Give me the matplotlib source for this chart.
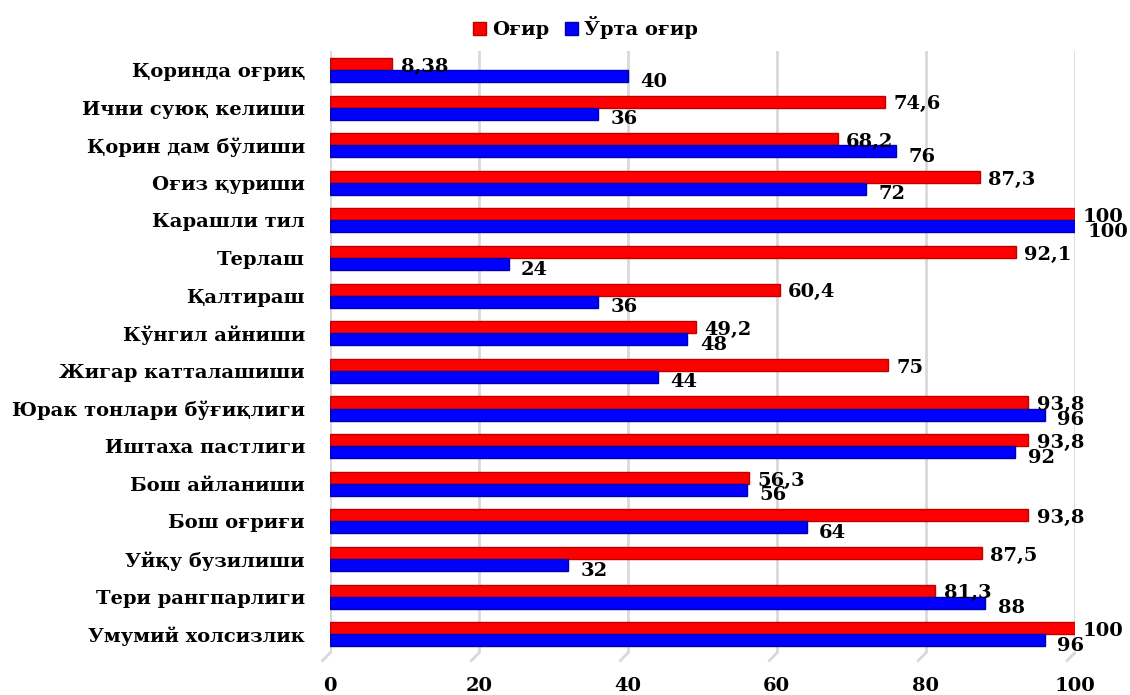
import matplotlib
matplotlib.use("Agg")
import matplotlib.pyplot as plt
import numpy as np

categories = ["Қоринда оғриқ", "Ични суюқ келиши", "Қорин дам бўлиши", "Оғиз қуриши",
              "Карашли тил", "Терлаш", "Қалтираш", "Кўнгил айниши", "Жигар катталашиши",
              "Юрак тонлари бўғиқлиги", "Иштаха пастлиги", "Бош айланиши", "Бош оғриғи",
              "Уйқу бузилиши", "Тери рангпарлиги", "Умумий холсизлик"]
ogir = [8.38, 74.6, 68.2, 87.3, 100, 92.1, 60.4, 49.2, 75, 93.8, 93.8, 56.3, 93.8, 87.5, 81.3, 100]
orta = [40, 36, 76, 72, 100, 24, 36, 48, 44, 96, 92, 56, 64, 32, 88, 96]
ogir_lbl = ["8,38", "74,6", "68,2", "87,3", "100", "92,1", "60,4", "49,2", "75", "93,8",
            "93,8", "56,3", "93,8", "87,5", "81,3", "100"]
orta_lbl = [str(v) for v in orta]
ticks = [0, 20, 40, 60, 80, 100]

plt.rcParams['font.family'] = ['DejaVu Serif']
plt.rcParams['font.weight'] = 'bold'

fig = plt.figure(figsize=(11.3, 6.95), dpi=100)
ax = fig.add_axes([0.292, 0.0604, 0.659, 0.866])

y = np.arange(len(categories))
h = 0.32
ax.barh(y - h / 2, ogir, height=h, color="#ff0000", edgecolor="#c00000", linewidth=1, label="Оғир", zorder=3)
ax.barh(y + h / 2, orta, height=h, color="#0000ff", edgecolor="#0000b0", linewidth=1, label="Ўрта оғир", zorder=3)

for i in range(len(categories)):
    ax.annotate(ogir_lbl[i], (ogir[i], y[i] - h / 2), xytext=(6, -2), textcoords="offset points",
                va="center", ha="left", fontsize=14, fontweight="bold")
    ax.annotate(orta_lbl[i], (orta[i], y[i] + h / 2), xytext=(9, -4), textcoords="offset points",
                va="center", ha="left", fontsize=14, fontweight="bold")

n = len(categories)
ax.set_ylim(n - 0.5, -0.5)
ax.set_xlim(0, 100)
ax.set_yticks(y)
ax.set_yticklabels(categories, fontsize=14, fontweight="bold")
ax.set_xticks(ticks)
ax.set_xticklabels([str(t) for t in ticks], fontsize=14, fontweight="bold")
ax.tick_params(axis="y", length=0, pad=18)
ax.tick_params(axis="x", length=0, pad=17)
for s in ax.spines.values():
    s.set_visible(False)
ax.grid(axis="x", color="#d9d9d9", linewidth=2, zorder=0)
ax.axvline(0, color="#d9d9d9", linewidth=2, zorder=0)
# small floor strokes under each gridline
for t in ticks:
    ax.plot([t, t - 1.0], [n - 0.5, n - 0.3], color="#d9d9d9", linewidth=2, clip_on=False, zorder=0)

fig.legend(loc="center", bbox_to_anchor=(0.518, 0.96), ncol=2, frameon=False, fontsize=14,
           handlelength=0.7, handleheight=0.7, handletextpad=0.3, columnspacing=0.8)

fig.savefig("out.png", dpi=100)
